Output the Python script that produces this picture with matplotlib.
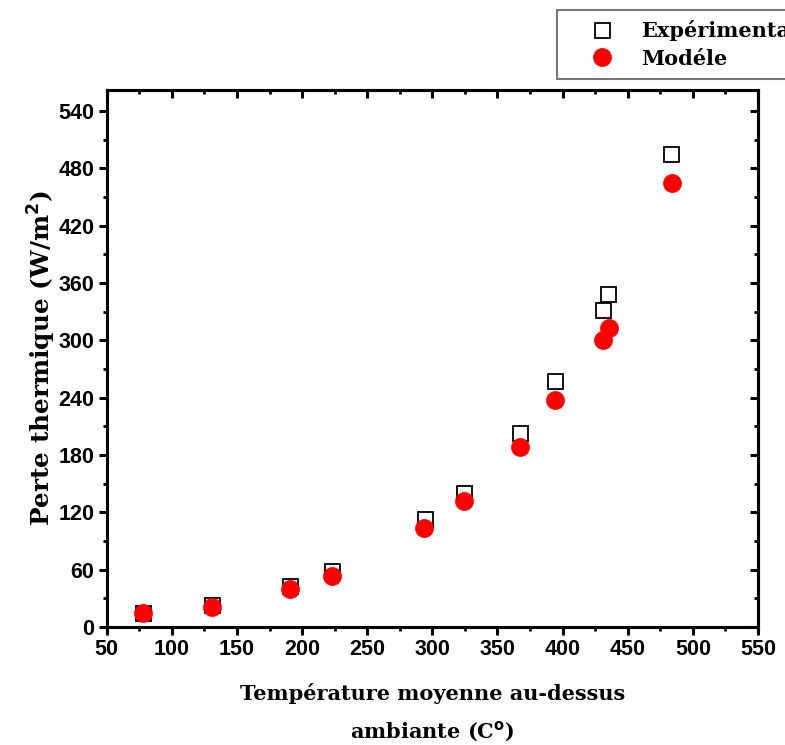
import matplotlib
matplotlib.use("Agg")
import matplotlib.pyplot as plt
from matplotlib.ticker import MultipleLocator

# Mean temperature above ambient (°C) and heat loss (W/m²)
temp_exp = [77.6, 130.8, 190.7, 222.9, 294.3, 324.0, 367.2, 394.0, 431.1, 435.0, 483.1]
loss_exp = [15.0, 23.0, 42.9, 58.6, 112.5, 140.7, 203.5, 257.0, 331.9, 348.0, 495.0]

temp_mod = [77.6, 130.8, 190.7, 222.9, 293.5, 324.0, 367.2, 394.0, 431.1, 435.5, 483.6]
loss_mod = [14.3, 21.2, 39.8, 53.4, 103.9, 131.9, 188.7, 238.0, 300.3, 312.6, 464.3]

x_ticks = [50, 100, 150, 200, 250, 300, 350, 400, 450, 500, 550]
y_ticks = [0, 60, 120, 180, 240, 300, 360, 420, 480, 540]

fig = plt.figure(figsize=(7.85, 7.45), dpi=100)
ax = fig.add_axes([0.1359, 0.1584, 0.8297, 0.7208])

ax.plot(temp_exp, loss_exp, linestyle="none", marker="s", markersize=10.8,
        markerfacecolor="white", markeredgecolor="black", markeredgewidth=1.3,
        label="Expérimentale", zorder=3)
ax.plot(temp_mod, loss_mod, linestyle="none", marker="o", markersize=13,
        markerfacecolor="red", markeredgecolor="red", markeredgewidth=0.5,
        label="Modéle", zorder=4)

ax.set_xlim(50, 550)
ax.set_ylim(0, 562)
ax.set_xticks(x_ticks)
ax.set_yticks(y_ticks)
ax.xaxis.set_minor_locator(MultipleLocator(25))
ax.yaxis.set_minor_locator(MultipleLocator(30))

for s in ax.spines.values():
    s.set_linewidth(2.2)

tick_font = dict(family="Liberation Sans", weight="bold", size=15.5)
ax.tick_params(which="major", direction="out", length=6, width=2.2, pad=3)
ax.tick_params(which="minor", direction="out", length=3, width=2.0)
for lab in ax.get_xticklabels() + ax.get_yticklabels():
    lab.set_fontfamily(tick_font["family"])
    lab.set_fontweight(tick_font["weight"])
    lab.set_fontsize(tick_font["size"])

# Mirrored inward ticks on the top and right edges
top = ax.secondary_xaxis("top")
top.set_xticks(x_ticks)
top.xaxis.set_minor_locator(MultipleLocator(25))
top.tick_params(which="major", direction="in", length=6, width=2.2, labeltop=False)
top.tick_params(which="minor", direction="in", length=3, width=2.0)
top.spines["top"].set_linewidth(2.2)
right = ax.secondary_yaxis("right")
right.set_yticks(y_ticks)
right.yaxis.set_minor_locator(MultipleLocator(30))
right.tick_params(which="major", direction="in", length=6, width=2.2, labelright=False)
right.tick_params(which="minor", direction="in", length=3, width=2.0)
right.spines["right"].set_linewidth(2.2)

label_font = dict(family="DejaVu Serif", weight="bold")
ax.set_ylabel("Perte thermique (W/m$^\\mathbf{2}$)", fontsize=17.8, labelpad=0, **label_font)
ax.set_xlabel("Température moyenne au-dessus\nambiante (C$^\\mathbf{o}$)", fontsize=15,
              labelpad=16, linespacing=1.85, **label_font)

# Legend box runs past the right edge of the figure
leg = fig.legend(loc="upper left", bbox_to_anchor=(557 / 785, 1 - 10 / 745),
                 bbox_transform=fig.transFigure, frameon=True, fancybox=False,
                 prop=dict(family="DejaVu Serif", weight="bold", size=15),
                 borderpad=0.5, handletextpad=0.25, labelspacing=0.35,
                 borderaxespad=0, handlelength=3.3)
leg.get_frame().set_edgecolor("#555555")
leg.get_frame().set_linewidth(1.5)

fig.savefig("out.png", dpi=100)
